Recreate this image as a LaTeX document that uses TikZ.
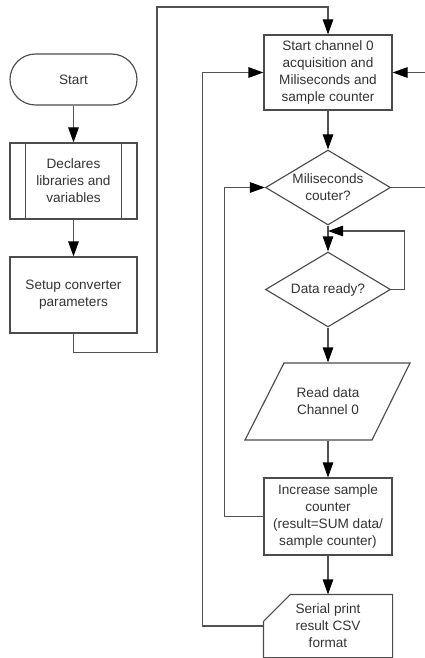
\documentclass[tikz,border=0pt]{standalone}
\usepackage{fontspec}
\setmainfont{Liberation Sans}
\usetikzlibrary{shapes.geometric,arrows.meta,calc}
\begin{document}
\begin{tikzpicture}[x=1pt,y=-1pt,
  line width=1.15pt,
  every node/.style={font=\fontsize{13.6}{17}\selectfont, text=black!80, align=center, inner sep=0pt},
  shapeline/.style={draw=black!70},
  box/.style={shapeline, rectangle, minimum width=128pt},
  ghost/.style={rectangle, minimum width=128pt},
  decision/.style={shapeline, diamond, minimum width=125pt, minimum height=75pt},
  flow/.style={draw=black!68, -{Triangle[length=15pt,width=10.5pt,color=black]}}]
\useasboundingbox (0,0) rectangle (425,658);

% left column
\node[box, rounded corners=25.5pt, minimum width=127pt, minimum height=51pt] (start) at (73.5,79.5) {Start};
\node[box, minimum width=127pt, minimum height=76pt] (decl) at (73.5,181) {Declares\\libraries and\\variables};
\draw[shapeline] ($(decl.north west)+(16,0)$) -- ($(decl.south west)+(16,0)$);
\draw[shapeline] ($(decl.north east)+(-16,0)$) -- ($(decl.south east)+(-16,0)$);
\node[box, minimum width=127pt, minimum height=76pt] (setup) at (73.5,295) {Setup converter\\parameters};

% right column
\node[box, minimum height=75pt] (chan) at (328,72.5) {Start channel 0\\acquisition and\\Miliseconds and\\sample counter};
\node[decision] (ms) at (328,187.5) {};
\node (mstext) at (328,187.5) {Miliseconds\\couter?};
\node[decision] (dr) at (328,289.5) {};
\node (drtext) at (328,289.5) {Data ready?};
\node[ghost, minimum height=77pt] (read) at (328,401.5) {Read data\\Channel 0};
\draw[shapeline] (245,440) -- (284,363) -- (410,363) -- (372,440) -- cycle;
\node[box, minimum height=77pt] (inc) at (328,516.5) {Increase sample\\counter\\(result=SUM data/\\sample counter)};
\node[ghost, minimum height=62pt] (ser) at (328,626) {Serial print\\result CSV\\format};
\draw[shapeline] (ser.south west) -- ($(ser.north west)+(0,27)$) -- ($(ser.north west)+(27,0)$)
  -- (ser.north east) -- (ser.south east) -- cycle;

% connector corners
\coordinate (up) at (157,7);
\coordinate (loop) at (328,231);
\coordinate (rgt) at (426,187.5);

% connectors
\draw[flow] (start) -- (decl);
\draw[flow] (decl) -- (setup);
\draw[flow] (setup.south) -- ++(0,19) -| (up) -| (chan.north);
\draw[flow] (chan) -- (ms);
\draw[flow] (ms) -- (dr);
\draw[flow] (dr.east) -- ++(13,0) |- (loop);
\draw[flow] (dr) -- (read);
\draw[flow] (read) -- (inc);
\draw[flow] (inc) -- (ser);
\draw[flow] (inc.west) -- ++(-39,0) |- (ms.west);
\draw[flow] (ser.west) -- ++(-61,0) |- (chan.west);
\draw[flow] (ms.east) -- (rgt) |- (chan.east);
\end{tikzpicture}
\end{document}
